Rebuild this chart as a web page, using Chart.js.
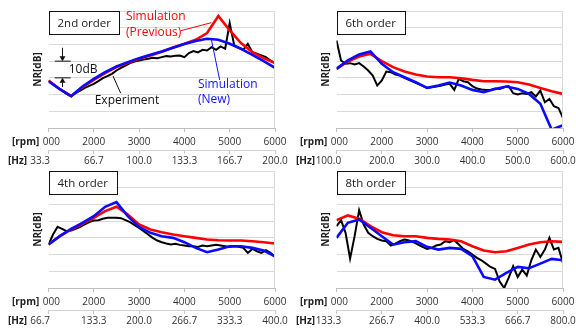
<!DOCTYPE html>
<html>
<head>
<meta charset="utf-8">
<script src="https://cdn.jsdelivr.net/npm/chart.js@4/dist/chart.umd.min.js"></script>
<style>
body { margin:0; background:#fff; width:576px; height:331px; overflow:hidden; position:relative; }
.panel { position:absolute; width:288px; height:165px; }
</style>
</head>
<body>
<div class="panel" style="left:0;top:0"><canvas id="c2" width="288" height="165"></canvas></div>
<div class="panel" style="left:288px;top:0"><canvas id="c6" width="288" height="165"></canvas></div>
<div class="panel" style="left:0;top:160px"><canvas id="c4" width="288" height="165"></canvas></div>
<div class="panel" style="left:288px;top:160px"><canvas id="c8" width="288" height="165"></canvas></div>
<script>
// rpm steps of the measurement and of the simulation
const rpmExp = [1000,1100,1200,1300,1400,1500,1600,1700,1800,1900,2000,2100,2200,2300,2400,2500,2600,2700,2800,2900,
  3000,3100,3200,3300,3400,3500,3600,3700,3800,3900,4000,4100,4200,4300,4400,4500,4600,4700,4800,4900,
  5000,5100,5200,5300,5400,5500,5600,5700,5800,5900,6000];
const rpmSim = [1000,1250,1500,1750,2000,2250,2500,2750,3000,3250,3500,3750,4000,4250,4500,4750,5000,5250,5500,5750,6000];

const rpmLabels = ['1000','2000','3000','4000','5000','6000'];
const hz2 = ['33.3','66.7','100.0','133.3','166.7','200.0'];
const hz4 = ['66.7','133.3','200.0','266.7','333.3','400.0'];
const hz6 = ['100.0','200.0','300.0','400.0','500.0','600.0'];
const hz8 = ['133.3','266.7','400.0','533.3','666.7','800.0'];

// 2nd order
const ord2Exp = [28.4,26.4,24.4,22.4,20.4,19,20.8,22.4,24,25.2,26.4,28,29.8,31,32.4,34.4,36,37.4,38.8,39.8,
  40.4,41,41.4,42,41.8,42.4,43,42.8,43.2,43.4,42.4,44.8,46,45.2,46.8,46.4,48.4,46.8,48.8,47.4,
  62.8,49.4,48,46.8,50.4,45.4,44.4,43.4,42.4,40.4,38.8];
const ord2Prev = [28.4,23.2,19.2,24.4,28.8,32.8,36.4,39,41.4,43.4,45.6,48.2,50.4,52.8,56.8,67,58.4,50.8,45.4,41.8,38.8];
const ord2New = [28,23.2,19,24.8,29.4,33.4,36.8,39.4,41.8,43.8,45.8,48,50.2,52,53.4,52.8,50.4,47.4,43.8,40,36];

// 6th order
const ord6Exp = [52.4,40.4,38.4,38.8,38,38.8,36.8,34.4,31.4,25.4,28.4,33.8,33.4,32,31.4,30,28.8,27.6,26.4,25.2,
  24,24.4,24.8,25.2,26,26.4,22.8,29.4,28,27.4,25,23.6,23,22.8,22.8,23.6,23.4,24.4,25,20.8,
  20,20.8,20.4,21.4,18.8,22.4,15.4,17.4,13,12,6];
const ord6Prev = [35.4,39.8,42.8,44.4,40,36.4,33.8,32,30.8,30.4,30.4,29.8,28.8,28,28,27.8,27.4,26,24,22,20.4];
const ord6New = [35.4,40.4,44,45.8,38.4,33.4,30.4,27.4,24,25.4,27.2,25.4,22.8,21.4,23.4,24.8,23.4,20.4,14.5,-1,1.6];

// 4th order
const ord4Exp = [26,32,36.6,35.4,34,34.4,35.4,36.6,38,39.4,40.4,40.6,41.4,42,42,42,41.8,40.6,39.4,37.6,
  36,34,32,30,28.4,27.4,26.6,26,26.4,25.8,25.4,25,25,24.6,25.4,25,25.4,25.8,25.4,25,
  24.6,25,24.6,24,21,23.4,22,21,22.6,21,18.6];
const ord4Prev = [26,31,35,38.4,42,46,48.6,44,38,35,33.4,32,31,30,29,28.6,28.4,28.4,28,27.4,26.6];
const ord4New = [26,31,35.4,39,43,48.6,51.4,43,36.6,33,31,30,27.4,24,21.4,23,25,25,24,22.4,19];

// 8th order
const ord8Exp = [37,40.6,33,17.6,31,46.6,38,33,31,29.4,28.4,28,25.4,26.6,28,29,28.4,27.4,26,24.6,
  23.4,24,25.4,26,28,27.4,28.6,26,23.4,22,20,18,16.6,14.6,12.6,11.4,4,0,6,13,
  6.6,11,7.4,16.6,23,18.6,23,30,23,24,15];
const ord8Prev = [40.6,43.4,41.4,37,33.4,31.6,31,31,30,29.4,29,28,25,22.4,21.4,22,24,26,27.4,28,27.6];
const ord8New = [30,39,41,36,31,26,27.4,28,24.6,23,24,23.4,19,6.6,5,9,12.6,11.8,14.6,17.4,16.6];

Chart.defaults.font.family = '"Open Sans", sans-serif';

function pts(xs, ys) {
    return xs.map(function(x, i) { return {x: x, y: ys[i]}; });
}

// title box, axis captions, right border
const panelPlugin = {
    id: 'panel',
    afterDraw(chart, args, opts) {
        const ctx = chart.ctx, a = chart.chartArea;
        const sx = chart.scales.x, s2 = chart.scales.x2;
        ctx.save();
        ctx.strokeStyle = '#d9d9d9';
        ctx.lineWidth = 1;
        ctx.beginPath();
        ctx.moveTo(Math.round(a.right) - 0.5, a.top);
        ctx.lineTo(Math.round(a.right) - 0.5, a.bottom);
        ctx.stroke();

        // title box
        ctx.font = '11.5px "Open Sans"';
        const w = ctx.measureText(opts.title).width + 17;
        ctx.fillStyle = '#fff';
        ctx.fillRect(a.left + 0.5, a.top + 0.5, w, 23);
        ctx.strokeStyle = '#111';
        ctx.strokeRect(Math.round(a.left) + 0.5, Math.round(a.top) + 0.5, Math.round(w), 23);
        ctx.fillStyle = '#222';
        ctx.textAlign = 'center';
        ctx.textBaseline = 'middle';
        ctx.fillText(opts.title, a.left + 0.5 + w / 2, a.top + 12.5);

        // NR[dB]
        ctx.save();
        ctx.translate(38.5, (a.top + a.bottom) / 2);
        ctx.rotate(-Math.PI / 2);
        ctx.font = 'bold 10px "Open Sans"';
        ctx.fillStyle = '#222';
        ctx.fillText('NR[dB]', 0, 0);
        ctx.restore();

        // [rpm] and [Hz]
        const yr = sx.top + 14, yh = s2.top + 11;
        ctx.fillStyle = '#fff';
        ctx.fillRect(0, yr - 7, a.left - 7.5, 14);
        ctx.fillStyle = '#222';
        ctx.textAlign = 'left';
        ctx.font = 'bold 10px "Open Sans"';
        ctx.fillText('[rpm]', 12, yr);
        const first = opts.hz[0];
        const wHz = ctx.measureText('[Hz]').width;
        const hzX = 8;
        ctx.fillText('[Hz]', hzX, yh);
        ctx.font = '10px "Open Sans"';
        const wLab = ctx.measureText(first).width;
        ctx.fillStyle = '#333';
        ctx.textAlign = 'right';
        ctx.fillText(first, Math.max(a.left + 1.5, hzX + wHz + 0.5 + wLab), yh);
        ctx.restore();
    }
};

// callouts of the 2nd order panel, in rpm / dB
const notes2 = [
    {text: 'Simulation', rpm: 2711, db: 66.4, color: '#ff0000'},
    {text: '(Previous)', rpm: 2711, db: 56.8, color: '#ff0000'},
    {text: 'Simulation', rpm: 4300, db: 25.7, color: '#1010ff'},
    {text: '(New)', rpm: 4300, db: 17.2, color: '#1010ff'},
    {text: 'Experiment', rpm: 2020, db: 16.3, color: '#111'},
    {text: '10dB', rpm: 1446, db: 34.7, color: '#111'}
];
const leaders2 = [
    {from: [3918, 58.2], to: [4594, 63], color: '#ff0000'},
    {from: [4594, 53.1], to: [4779, 28.7], color: '#1010ff'},
    {from: [2594, 20.8], to: [2424, 31.1], color: '#111'},
    {from: [1137, 40], to: [1490, 40], color: '#111'},
    {from: [1137, 30], to: [1490, 30], color: '#111'}
];
const arrows2 = [
    {rpm: 1298, from: 48, to: 40},
    {rpm: 1298, from: 24.5, to: 30}
];

const notesPlugin = {
    id: 'notes',
    afterDatasetsDraw(chart) {
        const ctx = chart.ctx, sx = chart.scales.x, sy = chart.scales.y;
        ctx.save();
        ctx.lineWidth = 1;
        leaders2.forEach(function(l) {
            ctx.strokeStyle = l.color;
            ctx.beginPath();
            ctx.moveTo(sx.getPixelForValue(l.from[0]), sy.getPixelForValue(l.from[1]));
            ctx.lineTo(sx.getPixelForValue(l.to[0]), sy.getPixelForValue(l.to[1]));
            ctx.stroke();
        });
        ctx.strokeStyle = '#111';
        ctx.fillStyle = '#111';
        arrows2.forEach(function(ar) {
            const x = Math.round(sx.getPixelForValue(ar.rpm)) + 0.5;
            const y0 = sy.getPixelForValue(ar.from), y1 = sy.getPixelForValue(ar.to);
            const d = y1 > y0 ? 1 : -1;
            ctx.beginPath();
            ctx.moveTo(x, y0);
            ctx.lineTo(x, y1 - d * 4);
            ctx.stroke();
            ctx.beginPath();
            ctx.moveTo(x - 3, y1 - d * 5);
            ctx.lineTo(x + 3, y1 - d * 5);
            ctx.lineTo(x, y1);
            ctx.closePath();
            ctx.fill();
        });
        ctx.font = '12px "Open Sans"';
        ctx.textAlign = 'left';
        ctx.textBaseline = 'middle';
        notes2.forEach(function(n) {
            ctx.fillStyle = n.color;
            ctx.fillText(n.text, sx.getPixelForValue(n.rpm), sy.getPixelForValue(n.db));
        });
        ctx.restore();
    }
};

function makeChart(id, title, hz, exp, prev, nw, extra) {
    const tickFont = {size: 10, family: '"Open Sans"'};
    return new Chart(document.getElementById(id), {
        type: 'line',
        data: {
            datasets: [
                {label: 'Simulation (New)', data: pts(rpmSim, nw), borderColor: '#0a0aff', borderWidth: 2.6, pointRadius: 0, tension: 0},
                {label: 'Simulation (Previous)', data: pts(rpmSim, prev), borderColor: '#ff0000', borderWidth: 2.6, pointRadius: 0, tension: 0},
                {label: 'Experiment', data: pts(rpmExp, exp), borderColor: '#000000', borderWidth: 2, pointRadius: 0, tension: 0}
            ]
        },
        options: {
            responsive: false,
            animation: false,
            devicePixelRatio: 1,
            layout: {padding: {left: 0, right: 13, top: 11, bottom: 0}},
            plugins: {
                legend: {display: false},
                tooltip: {enabled: false},
                panel: {title: title, hz: hz}
            },
            scales: {
                x: {
                    type: 'linear', position: 'bottom', weight: 0, min: 1000, max: 6000,
                    grid: {drawOnChartArea: false, drawTicks: true, tickLength: 4, tickColor: '#bfbfbf'},
                    border: {display: true, color: '#bfbfbf'},
                    ticks: {stepSize: 1000, autoSkip: false, maxRotation: 0, padding: 4, font: tickFont, color: '#333',
                        callback: function(v, i) { return rpmLabels[i]; }},
                    afterFit: function(s) { s.height = 22; s.paddingLeft = 0; s.paddingRight = 0; }
                },
                x2: {
                    type: 'linear', position: 'bottom', weight: 1, min: 1000, max: 6000,
                    grid: {drawOnChartArea: false, drawTicks: true, tickLength: 4, tickColor: '#c8c8c8'},
                    border: {display: true, color: '#d0d0d0'},
                    ticks: {stepSize: 1000, autoSkip: false, maxRotation: 0, padding: 1, font: tickFont, color: '#333',
                        callback: function(v, i) { return i === 0 ? '' : hz[i]; }},
                    afterFit: function(s) { s.height = 15; s.paddingLeft = 0; s.paddingRight = 0; }
                },
                y: {
                    min: 0, max: 70,
                    ticks: {display: false, stepSize: 10},
                    grid: {color: '#d9d9d9', drawTicks: false},
                    border: {display: false},
                    afterFit: function(s) { s.width = 48.5; }
                }
            }
        },
        plugins: extra ? [panelPlugin, notesPlugin] : [panelPlugin]
    });
}

makeChart('c2', '2nd order', hz2, ord2Exp, ord2Prev, ord2New, true);
makeChart('c6', '6th order', hz6, ord6Exp, ord6Prev, ord6New, false);
makeChart('c4', '4th order', hz4, ord4Exp, ord4Prev, ord4New, false);
makeChart('c8', '8th order', hz8, ord8Exp, ord8Prev, ord8New, false);
</script>
</body>
</html>
